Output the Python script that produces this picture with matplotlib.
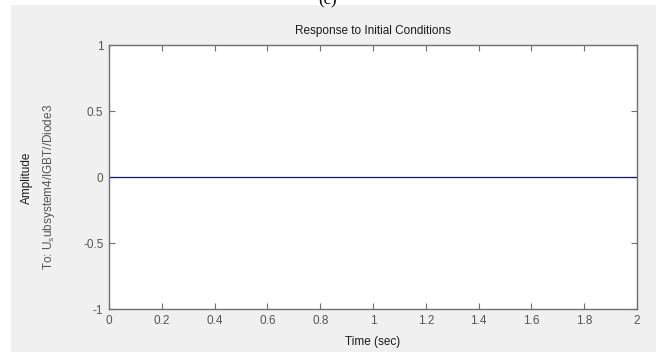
import matplotlib.pyplot as plt
from matplotlib.patches import Rectangle
import numpy as np

plt.rcParams['font.family'] = ['Liberation Sans', 'DejaVu Sans']
plt.rcParams['mathtext.fontset'] = 'custom'
plt.rcParams['mathtext.rm'] = 'Liberation Sans'

# response data
time = [0.0, 2.0]
amplitude = [0.0, 0.0]
x_ticks = [0, 0.2, 0.4, 0.6, 0.8, 1, 1.2, 1.4, 1.6, 1.8, 2]
x_labels = ['0', '0.2', '0.4', '0.6', '0.8', '1', '1.2', '1.4', '1.6', '1.8', '2']
y_ticks = [-1, -0.5, 0, 0.5, 1]
y_labels = ['-1', '-0.5', '0', '0.5', '1']

W, H = 656, 352
fig = plt.figure(figsize=(W / 100, H / 100), dpi=100)
fig.patch.set_facecolor('white')

# gray matlab window background
fig.patches.append(Rectangle((11 / W, 0), 1 - 11 / W, (H - 5) / H,
                             transform=fig.transFigure, facecolor='#f0f0f0',
                             edgecolor='none', zorder=-10))
fig.text(328 / W, 1.0, '(c)', ha='center', va='center', fontsize=12,
         family='Liberation Serif')

left, right, top, bottom = 109, 637, 45, 309
ax = fig.add_axes([left / W, 1 - bottom / H, (right - left) / W, (bottom - top) / H])
ax.set_facecolor('white')

ax.plot(time, amplitude, color='#0000ff', lw=0.9)

ax.set_xlim(0, 2)
ax.set_ylim(-1, 1)
ax.set_xticks(x_ticks, x_labels)
ax.set_yticks(y_ticks, y_labels)

gray = '#555555'
for s in ax.spines.values():
    s.set_color('#707070')
    s.set_linewidth(1.0)
ax.tick_params(direction='in', length=4, width=0.8, color='#707070',
               top=True, right=True, labelsize=8.5, labelcolor='#555555', pad=4)

ax.set_title('Response to Initial Conditions', fontsize=8.5, pad=8, color='#1a1a1a')
ax.set_xlabel('Time (sec)', fontsize=8.5, labelpad=7, color='#1a1a1a')

fig.text(27 / W, 1 - 178 / H, 'Amplitude', rotation=90, ha='center', va='center',
         fontsize=8.5, color='#1a1a1a')
fig.text(49 / W, 1 - 187 / H, 'To: U$_{\\rm s}$ubsystem4/IGBT//Diode3', rotation=90,
         ha='center', va='center', fontsize=8.5, color=gray)

fig.savefig('out.png', dpi=100)
